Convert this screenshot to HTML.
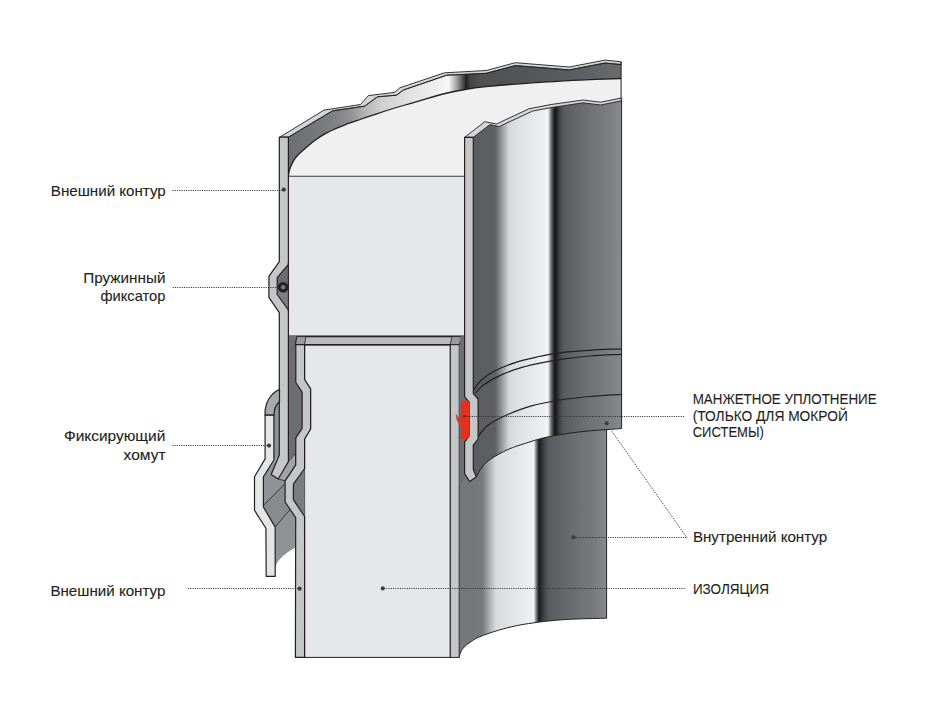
<!DOCTYPE html>
<html><head><meta charset="utf-8"><style>
html,body{margin:0;padding:0;background:#fff;}
body{width:926px;height:716px;overflow:hidden;}
svg{display:block;}
text{font-family:"Liberation Sans",sans-serif;fill:#231f20;}
</style></head><body>
<svg width="926" height="716" viewBox="0 0 926 716">

<defs>
<linearGradient id="gUp" gradientUnits="userSpaceOnUse" x1="473.5" y1="0" x2="621.6" y2="0">
 <stop offset="0" stop-color="#5b5c60"/>
 <stop offset="0.147" stop-color="#5e5f63"/>
 <stop offset="0.19" stop-color="#95969a"/>
 <stop offset="0.24" stop-color="#d6d7d9"/>
 <stop offset="0.30" stop-color="#dfe0e2"/>
 <stop offset="0.486" stop-color="#eef0f1"/>
 <stop offset="0.497" stop-color="#f5f6f7"/>
 <stop offset="0.507" stop-color="#dcdcdd"/>
 <stop offset="0.525" stop-color="#6a6a6c"/>
 <stop offset="0.548" stop-color="#18181a"/>
 <stop offset="0.560" stop-color="#202123"/>
 <stop offset="0.584" stop-color="#46474a"/>
 <stop offset="0.611" stop-color="#5a5b5f"/>
 <stop offset="0.745" stop-color="#6c6d71"/>
 <stop offset="0.90" stop-color="#7c7d81"/>
 <stop offset="1" stop-color="#88898d"/>
</linearGradient>
<linearGradient id="gLow" gradientUnits="userSpaceOnUse" x1="459.5" y1="0" x2="606.6" y2="0">
 <stop offset="0" stop-color="#75767a"/>
 <stop offset="0.155" stop-color="#78797d"/>
 <stop offset="0.20" stop-color="#a9aaad"/>
 <stop offset="0.247" stop-color="#d9dadc"/>
 <stop offset="0.32" stop-color="#e0e1e3"/>
 <stop offset="0.49" stop-color="#eeeff1"/>
 <stop offset="0.505" stop-color="#f4f4f5"/>
 <stop offset="0.52" stop-color="#8a8a8b"/>
 <stop offset="0.54" stop-color="#1a1a1b"/>
 <stop offset="0.555" stop-color="#2a2b2d"/>
 <stop offset="0.58" stop-color="#48494c"/>
 <stop offset="0.61" stop-color="#5c5d61"/>
 <stop offset="0.92" stop-color="#7a7b7f"/>
 <stop offset="1" stop-color="#88898c"/>
</linearGradient>
<linearGradient id="gBand" gradientUnits="userSpaceOnUse" x1="288" y1="0" x2="621" y2="0">
 <stop offset="0" stop-color="#6e6f72"/>
 <stop offset="0.036" stop-color="#717275"/>
 <stop offset="0.096" stop-color="#77787b"/>
 <stop offset="0.143" stop-color="#818284"/>
 <stop offset="0.188" stop-color="#919193"/>
 <stop offset="0.233" stop-color="#b5b5b6"/>
 <stop offset="0.279" stop-color="#cfcfd0"/>
 <stop offset="0.369" stop-color="#e2e2e3"/>
 <stop offset="0.444" stop-color="#eeeeef"/>
 <stop offset="0.482" stop-color="#f7f7f7"/>
 <stop offset="0.505" stop-color="#a8a8a9"/>
 <stop offset="0.530" stop-color="#3a3a3b"/>
 <stop offset="0.535" stop-color="#1e1e1f"/>
 <stop offset="0.547" stop-color="#444547"/>
 <stop offset="0.577" stop-color="#505153"/>
 <stop offset="0.817" stop-color="#58595c"/>
 <stop offset="1" stop-color="#6a6b6e"/>
</linearGradient>
</defs>

<rect width="926" height="716" fill="#fff"/>
<path d="M288.6,176.0 C288.6,175.6 288.4,175.0 288.7,173.6 C289.0,172.2 289.4,169.7 290.3,167.5 C291.2,165.3 292.4,162.5 293.8,160.3 C295.2,158.1 296.3,156.7 298.6,154.3 C300.9,152.0 304.7,148.8 307.7,146.2 C310.7,143.6 313.8,141.1 316.8,139.0 C319.8,136.9 322.8,135.1 325.8,133.4 C328.8,131.7 331.7,130.4 334.9,129.0 C338.1,127.6 340.8,126.4 345.0,124.8 C349.2,123.2 354.8,121.3 360.0,119.5 C365.2,117.7 371.0,115.8 376.0,114.1 C381.0,112.4 385.2,111.0 390.0,109.5 C394.8,108.0 399.8,106.5 405.0,105.0 C410.2,103.5 414.7,102.1 421.0,100.3 C427.3,98.5 435.7,95.8 443.0,94.0 C450.3,92.2 457.8,90.7 465.0,89.5 C472.2,88.3 478.5,87.5 486.0,86.7 C493.5,85.9 501.0,85.2 510.0,84.5 C519.0,83.8 528.3,83.0 540.0,82.3 C551.7,81.6 566.5,80.7 580.0,80.1 C593.5,79.5 614.2,78.8 621.1,78.5 L621.1,100 L465,140 L465,176 Z" fill="#f0f0f1"/>
<path d="M288.4,137.2 L332.6,110.8 L364.5,106.2 L377.5,96.8 L396.5,95.2 L403.4,90.0 L446.8,75.2 L486.2,73.3 L515.3,65.6 L569.3,69.9 L605.0,63.0 L621.1,64.6 L621.1,78.5 C614.2,78.8 593.5,79.5 580.0,80.1 C566.5,80.7 551.7,81.6 540.0,82.3 C528.3,83.0 519.0,83.8 510.0,84.5 C501.0,85.2 493.5,85.9 486.0,86.7 C478.5,87.5 472.2,88.3 465.0,89.5 C457.8,90.7 450.3,92.2 443.0,94.0 C435.7,95.8 427.3,98.5 421.0,100.3 C414.7,102.1 410.2,103.5 405.0,105.0 C399.8,106.5 394.8,108.0 390.0,109.5 C385.2,111.0 381.0,112.4 376.0,114.1 C371.0,115.8 365.2,117.7 360.0,119.5 C354.8,121.3 349.2,123.2 345.0,124.8 C340.8,126.4 338.1,127.6 334.9,129.0 C331.7,130.4 328.8,131.7 325.8,133.4 C322.8,135.1 319.8,136.9 316.8,139.0 C313.8,141.1 310.7,143.6 307.7,146.2 C304.7,148.8 300.9,152.0 298.6,154.3 C296.3,156.7 295.2,158.1 293.8,160.3 C292.4,162.5 291.2,165.3 290.3,167.5 C289.4,169.7 289.0,172.2 288.7,173.6 C288.4,175.0 288.6,175.6 288.6,176.0 Z" fill="url(#gBand)"/>
<path d="M279.7,137.2 L324.0,110.1 L360.5,104.5 L368.4,95.6 L394.5,92.4 L399.8,87.8 L444.6,72.8 L486.2,70.5 L515.3,62.7 L569.3,67.0 L605.0,60.1 L621.1,61.8 L621.1,64.6 L621.1,64.6 L605.0,63.0 L569.3,69.9 L515.3,65.6 L486.2,73.3 L446.8,75.2 L403.4,90.0 L396.5,95.2 L377.5,96.8 L364.5,106.2 L332.6,110.8 L288.4,137.2 Z" fill="#d4d5d7" stroke="#231f20" stroke-width="0.9" stroke-linejoin="round"/>
<path d="M288.4,137.2 L332.6,110.8 L364.5,106.2 L377.5,96.8 L396.5,95.2 L403.4,90.0 L446.8,75.2 L486.2,73.3 L515.3,65.6 L569.3,69.9 L605.0,63.0 L621.1,64.6" fill="none" stroke="#231f20" stroke-width="0.8"/>
<path d="M288.6,176.0 C288.6,175.6 288.4,175.0 288.7,173.6 C289.0,172.2 289.4,169.7 290.3,167.5 C291.2,165.3 292.4,162.5 293.8,160.3 C295.2,158.1 296.3,156.7 298.6,154.3 C300.9,152.0 304.7,148.8 307.7,146.2 C310.7,143.6 313.8,141.1 316.8,139.0 C319.8,136.9 322.8,135.1 325.8,133.4 C328.8,131.7 331.7,130.4 334.9,129.0 C338.1,127.6 340.8,126.4 345.0,124.8 C349.2,123.2 354.8,121.3 360.0,119.5 C365.2,117.7 371.0,115.8 376.0,114.1 C381.0,112.4 385.2,111.0 390.0,109.5 C394.8,108.0 399.8,106.5 405.0,105.0 C410.2,103.5 414.7,102.1 421.0,100.3 C427.3,98.5 435.7,95.8 443.0,94.0 C450.3,92.2 457.8,90.7 465.0,89.5 C472.2,88.3 478.5,87.5 486.0,86.7 C493.5,85.9 501.0,85.2 510.0,84.5 C519.0,83.8 528.3,83.0 540.0,82.3 C551.7,81.6 566.5,80.7 580.0,80.1 C593.5,79.5 614.2,78.8 621.1,78.5" fill="none" stroke="#231f20" stroke-width="1.3"/>
<path d="M621.1,61.8 L621.1,100" stroke="#231f20" stroke-width="1"/>
<path d="M459.5,420 L606.6,420 L606.6,618.2 L606.5,618.2 C601.4,618.3 584.4,618.7 576.1,619.0 C567.8,619.3 562.8,619.7 556.6,620.2 C550.4,620.7 545.6,621.2 539.1,622.1 C532.6,623.0 524.6,624.0 517.8,625.4 C511.0,626.8 504.8,628.3 498.3,630.3 C491.8,632.2 483.8,635.0 478.9,637.1 C474.0,639.2 471.6,641.3 469.2,642.9 C466.8,644.5 465.8,645.5 464.5,646.8 C463.2,648.0 462.3,649.3 461.6,650.4 C460.9,651.5 460.6,652.4 460.2,653.5 C459.8,654.6 459.5,656.6 459.4,657.2 Z" fill="url(#gLow)"/>
<path d="M459.4,657.2 C459.5,656.6 459.8,654.6 460.2,653.5 C460.6,652.4 460.9,651.5 461.6,650.4 C462.3,649.3 463.2,648.0 464.5,646.8 C465.8,645.5 466.8,644.5 469.2,642.9 C471.6,641.3 474.0,639.2 478.9,637.1 C483.8,635.0 491.8,632.2 498.3,630.3 C504.8,628.3 511.0,626.8 517.8,625.4 C524.6,624.0 532.6,623.0 539.1,622.1 C545.6,621.2 550.4,620.7 556.6,620.2 C562.8,619.7 567.8,619.3 576.1,619.0 C584.4,618.7 601.4,618.3 606.5,618.2 L606.6,618.2 L606.6,425" fill="none" stroke="#231f20" stroke-width="1"/>
<path d="M473.3,137.3 L490.0,124.6 L499.0,126.6 L532.8,111.0 L553.0,107.3 L583.0,102.8 L600.6,105.0 L621.3,100.8 L621.6,428.6 L621.6,428.6 C615.7,429.0 596.3,430.2 586.0,431.2 C575.7,432.2 567.2,433.5 560.0,434.7 C552.8,435.9 548.5,436.7 542.8,438.1 C537.0,439.5 531.3,441.4 525.5,443.3 C519.7,445.2 514.0,446.8 508.2,449.4 C502.4,452.0 495.2,456.0 490.9,458.9 C486.6,461.8 484.7,463.7 482.3,466.7 C479.9,469.7 477.3,475.3 476.3,477.0 L473.3,470 Z" fill="url(#gUp)"/>
<path d="M476.3,477.0 C477.3,475.3 479.9,469.7 482.3,466.7 C484.7,463.7 486.6,461.8 490.9,458.9 C495.2,456.0 502.4,452.0 508.2,449.4 C514.0,446.8 519.7,445.2 525.5,443.3 C531.3,441.4 537.0,439.5 542.8,438.1 C548.5,436.7 552.8,435.9 560.0,434.7 C567.2,433.5 575.7,432.2 586.0,431.2 C596.3,430.2 615.7,429.0 621.6,428.6 L621.6,428.6 L621.6,98" fill="none" stroke="#231f20" stroke-width="1"/>
<path d="M473.3,390.3 C474.6,388.7 477.4,383.8 481.0,380.5 C484.6,377.2 489.1,373.7 494.9,370.7 C500.7,367.7 508.9,364.6 515.9,362.3 C522.9,360.0 529.4,358.6 536.8,357.0 C544.1,355.4 551.1,353.9 560.0,352.8 C568.9,351.7 579.7,351.0 590.0,350.3 C600.3,349.6 616.3,349.1 621.6,348.8" fill="none" stroke="#231f20" stroke-width="1.25"/>
<path d="M475.4,393.0 C476.8,391.6 479.3,387.8 483.7,384.7 C488.1,381.6 495.4,377.5 501.9,374.6 C508.4,371.7 515.8,369.2 522.8,367.2 C529.8,365.1 537.6,363.6 543.8,362.3 C550.0,361.0 552.3,360.7 560.0,359.6 C567.7,358.6 579.7,356.9 590.0,356.0 C600.3,355.1 616.3,354.6 621.6,354.3" fill="none" stroke="#231f20" stroke-width="1.25"/>
<path d="M478.2,436.4 C479.8,434.5 482.8,428.9 487.9,425.2 C493.0,421.5 501.9,417.1 508.9,414.0 C515.9,410.9 521.3,408.6 529.8,406.3 C538.3,404.0 550.0,401.6 560.0,400.0 C570.0,398.4 579.7,397.4 590.0,396.5 C600.3,395.6 616.3,394.8 621.6,394.5" fill="none" stroke="#231f20" stroke-width="1.25"/>
<path d="M464.7,137.3 L484.8,121.7 L496.5,124.0 L528.9,108.8 L551.0,104.5 L583.0,100.0 L600.6,102.2 L621.3,98.0 L621.3,100.8 L621.3,100.8 L600.6,105.0 L583.0,102.8 L553.0,107.3 L532.8,111.0 L499.0,126.6 L490.0,124.6 L473.3,137.3 Z" fill="#d4d5d7" stroke="#231f20" stroke-width="0.9" stroke-linejoin="round"/>
<rect x="288.4" y="176.2" width="176.6" height="160" fill="#e6e7e8"/>
<path d="M288.4,176.2 L465,176.2" stroke="#3a3a3c" stroke-width="1.1"/>
<path d="M288.4,336.1 L465,336.1" stroke="#231f20" stroke-width="1.1"/>
<path d="M288.4,336 L311,336 L311,455 L295.6,453.3 L288.4,461.6 Z" fill="#6d6e71"/>
<path d="M273.9,401.4 L279.5,401.4 L279.5,455.0 L288.4,461.6 L295.6,453.3 L295.7,465.1 L285.1,480.8 L285.1,502.0 L295.7,517.6 L295.4,547.4 L295.4,547.4 C294.2,548.2 290.4,550.2 288.0,552.0 C285.6,553.8 282.8,556.2 281.0,558.0 C279.2,559.8 278.0,561.3 277.0,563.0 C276.0,564.7 275.5,567.2 275.2,568.0 L275.2,527 L263.4,507 L263.4,476.8 L273.2,460 Z" fill="#919295"/>
<path d="M279.5,455 L288.4,461.6 L295.6,453.3 L295.7,465.1 L285.1,480.8 L278.2,479 Z" fill="#a2a3a6" stroke="#231f20" stroke-width="0.8" stroke-linejoin="round"/>
<path d="M263.4,505.5 L285.1,483.6 L285.1,502 L290.2,509.5 L275.2,527 Z" fill="#8a8b8e"/>
<path d="M263.4,505.5 L285.1,483.6 M275.2,527 L290.2,509.5" fill="none" stroke="#231f20" stroke-width="0.8"/>
<path d="M273.2,460 L279.3,455 L277,460.5 L268.5,467.5 Z" fill="#a5a6a8"/>
<path d="M304.6,345 L304.6,379.5 L310.6,388.8 L310.6,429 L304.6,439 L304.6,657.4 L450.3,657.4 L450.3,345 Z" fill="#e6e7e8" stroke="#231f20" stroke-width="1"/>
<path d="M296.9,336.6 L461.5,336.6 L459.2,344.7 L295.5,344.7 Z" fill="#b9babc" stroke="#231f20" stroke-width="1.2" stroke-linejoin="round"/>
<path d="M296.9,336.6 L306,336.6 L304.4,344.7 L295.5,344.7 Z" fill="#9a9b9e" stroke="#231f20" stroke-width="0.8"/>
<path d="M452,336.6 L461.5,336.6 L459.2,344.7 L450.3,344.7 Z" fill="#9a9b9e" stroke="#231f20" stroke-width="0.8"/>
<path d="M304.6,468.5 L293.4,484.1 L293.4,499.7 L304.6,516.5 Z" fill="#7b7c7f"/>
<path d="M295.8,344.7 L295.8,382.5 L302.1,392.0 L302.1,428.4 L295.8,437.8 L295.7,465.1 L285.1,480.8 L285.1,502.0 L295.7,517.6 L295.4,657.4 L304.6,657.4 L304.6,516.5 L293.4,499.7 L293.4,484.1 L304.6,468.5 L304.6,439.0 L310.6,429.0 L310.6,388.8 L304.6,379.5 L304.6,344.7 Z" fill="#c5c6c8" stroke="#231f20" stroke-width="1.2" stroke-linejoin="round"/>
<rect x="450.3" y="344.7" width="8.9" height="312.7" fill="#c5c6c8" stroke="#231f20" stroke-width="1"/>
<path d="M459.7,336.6 L465,336.6 L465,396 L469.5,401.5 L469.5,436.5 L465,442.5 L465,478 L459.7,485 Z" fill="#6d6e71"/>
<path d="M288.4,264.4 L277.2,277.7 L277.2,294.5 L288.4,309.8 Z" fill="#7d7e81"/>
<path d="M288.4,264.4 L277.2,277.7 L277.2,287 L288.4,287 Z" fill="#6a6b6e"/>
<path d="M279.3,137.2 L279.3,261.6 L268.9,276.3 L268.9,297.3 L279.3,312.6 L279.3,455.0 L271.2,474.4 L278.2,479.0 L288.4,461.6 L288.4,309.8 L277.2,294.5 L277.2,277.7 L288.4,264.4 L288.4,137.2 Z" fill="#c5c6c8" stroke="#231f20" stroke-width="1.2" stroke-linejoin="round"/>
<path d="M288.4,262 L288.4,312" stroke="#231f20" stroke-width="1.1"/>
<circle cx="283.1" cy="287.2" r="5.3" fill="#231f20"/><circle cx="283.1" cy="287.2" r="2.3" fill="#77787b"/>
<path d="M279.5,389.4 C278.8,389.8 276.5,390.8 275.0,392.0 C273.5,393.2 271.8,394.8 270.5,396.5 C269.2,398.2 267.9,400.2 267.0,402.5 C266.1,404.8 265.4,408.9 265.1,410.2 L265.1,415.2 L273.9,415.2 L273.9,415.2 C274.0,414.2 274.4,410.7 274.8,409.0 C275.2,407.3 275.7,406.3 276.5,405.0 C277.3,403.7 279.0,402.0 279.5,401.4 Z" fill="#a9aaad" stroke="#231f20" stroke-width="1.2" stroke-linejoin="round"/>
<path d="M265.1,415.2 L265.1,458.9 L254.5,476.8 L254.5,510.3 L265.9,528.2 L266.2,576.4 L275.2,576.4 L275.2,527.1 L263.4,507.0 L263.4,476.8 L273.9,460.0 L273.9,415.2 Z" fill="#e4e5e6" stroke="#231f20" stroke-width="1.2" stroke-linejoin="round"/>
<path d="M464.6,137.3 L464.6,396.7 L469.1,402.2 L469.1,435.8 L464.6,442.1 L464.6,473.6 L469.6,481.5 L476.3,477.0 L473.3,469.2 L473.3,445.2 L478.1,439.0 L478.1,399.0 L473.3,393.6 L473.3,137.3 Z" fill="#c5c6c8" stroke="#231f20" stroke-width="1.2" stroke-linejoin="round"/>
<path d="M460.7,401.8 L462.0,400.6 L467.6,400.6 L469.3,402.4 L469.3,436.3 L466.8,439.0 L460.7,439.0 L460.7,426.5 L458.6,423.8 L456.6,419.5 L455.7,413.2 L457.6,416.3 L460.7,419.5 Z" fill="#e4301f"/>
<line x1="172.5" y1="190.5" x2="283" y2="190.5" stroke="#333335" stroke-width="1" stroke-dasharray="1.1 1.17"/>
<circle cx="283.8" cy="189.6" r="2.1" fill="#3d3d3f"/>
<line x1="172.7" y1="287.5" x2="279" y2="287.5" stroke="#333335" stroke-width="1" stroke-dasharray="1.1 1.17"/>
<line x1="172.3" y1="445.5" x2="268" y2="445.5" stroke="#333335" stroke-width="1" stroke-dasharray="1.1 1.17"/>
<circle cx="269" cy="445.6" r="2.1" fill="#3d3d3f"/>
<line x1="188" y1="588.5" x2="299" y2="588.5" stroke="#333335" stroke-width="1" stroke-dasharray="1.1 1.17"/>
<circle cx="299.7" cy="588.7" r="2.1" fill="#3d3d3f"/>
<line x1="384" y1="588.5" x2="685" y2="588.5" stroke="#333335" stroke-width="1" stroke-dasharray="1.1 1.17"/>
<circle cx="382.8" cy="588.4" r="2.1" fill="#3d3d3f"/>
<line x1="465" y1="416.5" x2="685" y2="416.5" stroke="#333335" stroke-width="1" stroke-dasharray="1.1 1.17"/>
<circle cx="464.4" cy="416.3" r="1.4" fill="#6a2a26"/>
<line x1="574" y1="537.5" x2="686.7" y2="537.5" stroke="#333335" stroke-width="1" stroke-dasharray="1.1 1.17"/>
<circle cx="573.5" cy="537.3" r="2.1" fill="#3d3d3f"/>
<line x1="611.5" y1="430.8" x2="686.7" y2="537.4" stroke="#333335" stroke-width="1" stroke-dasharray="1.1 1.17"/>
<circle cx="606.7" cy="423.3" r="2.1" fill="#3d3d3f"/>
<text x="50.8" y="195.5" font-size="15" textLength="115.0" lengthAdjust="spacingAndGlyphs" stroke="#231f20" stroke-width="0.12">Внешний контур</text>
<text x="83.3" y="283.1" font-size="15" textLength="82.1" lengthAdjust="spacingAndGlyphs" stroke="#231f20" stroke-width="0.12">Пружинный</text>
<text x="100.4" y="301.3" font-size="15" textLength="65.0" lengthAdjust="spacingAndGlyphs" stroke="#231f20" stroke-width="0.12">фиксатор</text>
<text x="63.9" y="441.2" font-size="15" textLength="101.5" lengthAdjust="spacingAndGlyphs" stroke="#231f20" stroke-width="0.12">Фиксирующий</text>
<text x="123.6" y="460" font-size="15" textLength="41.9" lengthAdjust="spacingAndGlyphs" stroke="#231f20" stroke-width="0.12">хомут</text>
<text x="50.4" y="595.7" font-size="15" textLength="115.0" lengthAdjust="spacingAndGlyphs" stroke="#231f20" stroke-width="0.12">Внешний контур</text>
<text x="692.7" y="404" font-size="14" textLength="183.9" lengthAdjust="spacingAndGlyphs" stroke="#231f20" stroke-width="0.12">МАНЖЕТНОЕ УПЛОТНЕНИЕ</text>
<text x="692.7" y="420.6" font-size="14" textLength="155.1" lengthAdjust="spacingAndGlyphs" stroke="#231f20" stroke-width="0.12">(ТОЛЬКО ДЛЯ МОКРОЙ</text>
<text x="692.7" y="436.8" font-size="14" textLength="71.1" lengthAdjust="spacingAndGlyphs" stroke="#231f20" stroke-width="0.12">СИСТЕМЫ)</text>
<text x="692.9" y="542.1" font-size="15" textLength="134.3" lengthAdjust="spacingAndGlyphs" stroke="#231f20" stroke-width="0.12">Внутренний контур</text>
<text x="692.9" y="593.6" font-size="14" textLength="76.0" lengthAdjust="spacingAndGlyphs" stroke="#231f20" stroke-width="0.12">ИЗОЛЯЦИЯ</text>
</svg>
</body></html>
